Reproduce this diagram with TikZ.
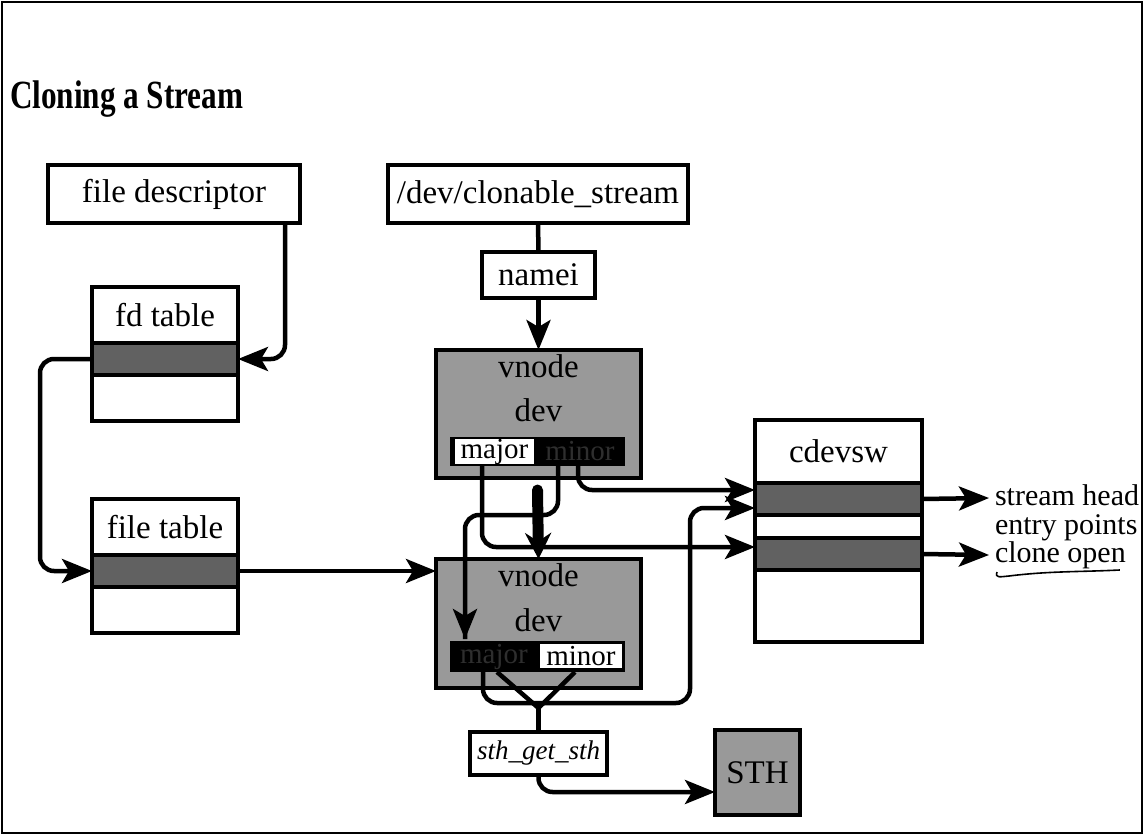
\documentclass[tikz,border=0pt]{standalone}
\usepackage{fontspec}
\usepackage{graphicx}
\setmainfont{Liberation Serif}
\usetikzlibrary{arrows.meta,calc}
\begin{document}
\begin{tikzpicture}[x=1pt,y=-1pt,
  every node/.style={inner sep=0pt, outer sep=0pt},
  body/.style={font=\fontsize{33}{38}\selectfont},
  bx/.style={draw, line width=4pt, fill=white, body},
  shaded/.style={draw, line width=4pt, fill=black!40, body},
  stripe/.style={draw, line width=4pt, fill=black!62},
  blackbar/.style={fill=black},
  small/.style={font=\fontsize{29}{32}\selectfont},
  lbl/.style={font=\fontsize{30}{30}\selectfont, anchor=base west, text height=20pt, text depth=6pt},
  con/.style={line width=4.5pt, rounded corners=14pt},
  arr/.style={con, -{Stealth[length=30pt,width=24pt,inset=7pt]}},
]
\useasboundingbox (0,0) rectangle (1144,835);
\draw[line width=2pt] (2,2) rectangle (1142,833);

% title
\node[anchor=base west, font=\bfseries\fontsize{40}{44}\selectfont] (title) at (10,108) {\scalebox{0.78}[1]{Cloning a Stream}};

% top boxes
\node[bx, minimum width=252, minimum height=58] (fdesc) at (174,194) {file descriptor};
\node[bx, minimum width=300, minimum height=58] (dev) at (538,194) {/dev/clonable\_stream};
\node[bx, minimum width=113, minimum height=46] (namei) at (538.5,275) {namei};

% fd table
\node[bx, minimum width=146, minimum height=56] (fdT) at (165,315) {fd table};
\node[stripe, minimum width=146, minimum height=32] (fdS) at (165,359) {};
\node[bx, minimum width=146, minimum height=46] (fdB) at (165,398) {};

% file table
\node[bx, minimum width=146, minimum height=56] (ftT) at (165,527) {file table};
\node[stripe, minimum width=146, minimum height=32] (ftS) at (165,571) {};
\node[bx, minimum width=146, minimum height=46] (ftB) at (165,610) {};

% cdevsw
\node[bx, minimum width=167, minimum height=63] (cdT) at (838.5,451.5) {cdevsw};
\node[stripe, minimum width=167, minimum height=32] (cdS1) at (838.5,499) {};
\node[bx, minimum width=167, minimum height=23] (cdM) at (838.5,526.5) {};
\node[stripe, minimum width=167, minimum height=32] (cdS2) at (838.5,554) {};
\node[bx, minimum width=167, minimum height=72] (cdB) at (838.5,606) {};

% vnode 1
\node[shaded, minimum width=205, minimum height=128] (vnodeA) at (538.5,414) {};
\node[body] (vnA) at (538.5,366) {vnode};
\node[body] (devA) at (538.5,410) {dev};
\node[blackbar, minimum width=175, minimum height=29] (barA) at (537.5,451.5) {};
\node[fill=white, small, minimum width=79, minimum height=22] (majA) at (494.5,451.5) {major};
\node[small, text=black!82, minimum width=85, minimum height=22] (minA) at (580,451.5) {minor};

% vnode 2
\node[shaded, minimum width=205, minimum height=129] (vnodeB) at (538.5,623.5) {};
\node[body] (vnB) at (538.5,575) {vnode};
\node[body] (devB) at (538.5,620) {dev};
\node[blackbar, minimum width=175, minimum height=31] (barB) at (537.5,656.5) {};
\node[small, text=black!82, minimum width=84, minimum height=24] (majB) at (494,656.5) {major};
\node[fill=white, small, minimum width=82, minimum height=24] (minB) at (581,656) {minor};

% sth_get_sth and STH
\node[bx, minimum width=137, minimum height=43, font=\itshape\fontsize{27}{30}\selectfont] (sth) at (538.5,753.5) {sth\_get\_sth};
\node[shaded, minimum width=85, minimum height=85] (STH) at (757.5,772.5) {STH};

% right labels
\node[lbl] (sh) at (995,505) {stream head};
\node[lbl] (ep) at (995,534) {entry points};
\node[lbl] (cl) at (995,562) {clone open};
\draw[line width=1.6pt] ($(cl.south west)+(2,4)$) .. controls +(-2,6) and +(-10,1) .. ($(cl.south west)+(14,8)$) .. controls +(40,-5) and +(-40,2) .. ($(cl.south east)+(-6,2)$);

% connectors
\draw[arr] ($(fdesc.south east)+(-15,0)$) |- (fdS.east);
\draw[arr] (fdS.west) -- ++(-52,0) |- (ftS.west);
\draw[arr] (ftS.east) -- (vnodeB.west |- ftS.east);
\draw[con] (dev.south) -- (namei.north);
\draw[arr] (namei.south) -- (vnodeA.north);

\draw[con] ($(barA.south west)+(108,0)$) -- ++(0,49) -| ($(barB.north west)+(15,-2)$);
\draw[line width=4.5pt, -{Stealth[length=30pt,width=24pt,inset=7pt]}] ($(barB.north west)+(15,-40)$) -- ($(barB.north west)+(15,-2)$);
\draw[arr] ($(barA.south west)+(32,0)$) |- ($(cdS2.north west)+(0,9)$);
\draw[arr] ($(barA.south west)+(128,0)$) |- ($(cdS1.north west)+(0,7)$);
\draw[line width=11pt, line cap=round, -{Stealth[length=26pt,width=26pt]}] ($(vnodeA.south)+(-1,12)$) -- (vnodeB.north);

\draw[arr] ($(barB.south west)+(33,0)$) |- ($(vnodeB.south east)+(49,15)$) |- ($(cdS1.south west)+(0,-7)$);
\coordinate (vj) at ($(sth.north)+(0,-24)$);
\draw[line width=4.5pt, line join=round] ($(barB.south west)+(47,0)$) -- (vj) -- ($(barB.south west)+(125,0)$);
\draw[con] (vj) -- (sth.north);
\draw[arr] (sth.south) |- ($(STH.south west)+(0,-23)$);

\draw[arr] (cdS1.east) -- ($(sh.west)+(-6,0)$);
\draw[arr] (cdS2.east) -- ($(cl.west)+(-6,0)$);
\end{tikzpicture}
\end{document}
